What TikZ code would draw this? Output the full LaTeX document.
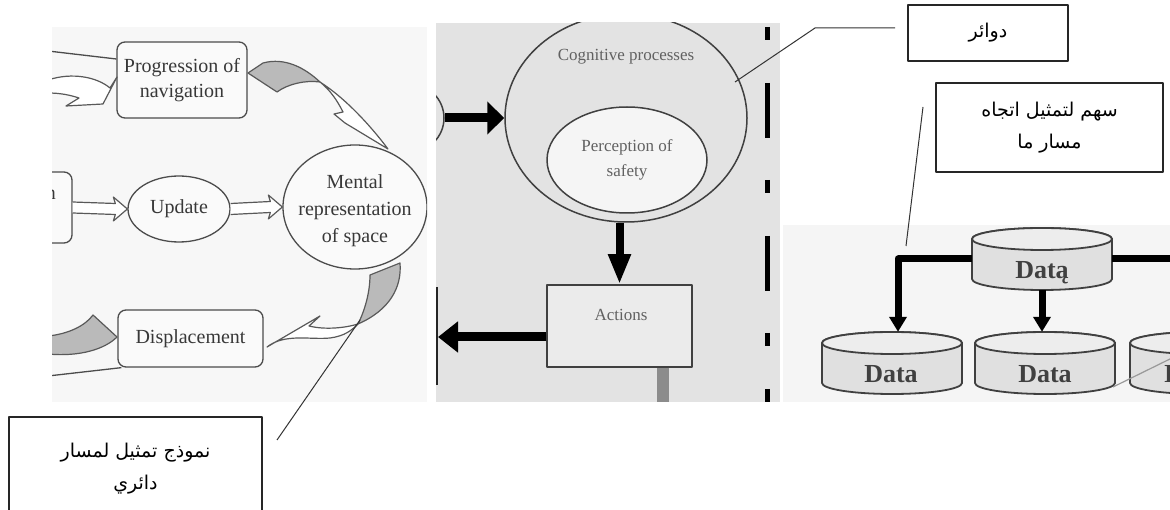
\documentclass[tikz,border=0pt]{standalone}
\usepackage{fontspec}
\setmainfont{Liberation Serif}
\newfontfamily\arabicfont[Script=Arabic]{DejaVu Sans}
\TeXXeTstate=1
\usetikzlibrary{shapes.geometric,arrows.meta,calc}

% a database drum: name, centre x, centre y, label, label x
\newcommand{\drum}[5]{%
  \node[inner sep=0pt, minimum width=140pt, minimum height=62pt] (#1) at (#2,#3) {};
  \path[drumline, fill=black!12] (#2-70,#3-20) -- (#2-70,#3+20)
     arc[start angle=180,end angle=0,x radius=70,y radius=11] -- (#2+70,#3-20)
     arc[start angle=0,end angle=-180,x radius=70,y radius=11] -- cycle;
  \draw[drumline, fill=black!7] (#2,#3-20) ellipse[x radius=70,y radius=11];
  \node[drumtext, anchor=base] at (#5,#3+20) {#4};
}
% double-line hollow arrow between two anchors
\newcommand{\dblarrow}[2]{%
  \draw[hollow] ($(#1)+(0,-5.5)$) -- ($(#2)+(-12,-5.5)$) -- ($(#2)+(-14,-12)$)
     -- (#2) -- ($(#2)+(-14,12)$) -- ($(#2)+(-12,5.5)$) -- ($(#1)+(0,5.5)$);
}

\begin{document}
\begin{tikzpicture}[x=1pt,y=-1pt, line join=round,
  panelline/.style={draw=black!70, line width=1.3pt},
  roundbox/.style={panelline, rounded corners=8pt, fill=white!98!black, inner sep=0pt,
     font=\fontsize{20}{25}\selectfont, text=black!78, align=center},
  ovalshape/.style={panelline, ellipse, inner sep=0pt, fill=white!98!black},
  txtone/.style={font=\fontsize{20}{27}\selectfont, text=black!78, align=center, inner sep=0pt},
  hollow/.style={draw=black!65, line width=1.2pt, fill=white},
  ribbon/.style={draw=black!65, line width=1.2pt, fill=black!27},
  lineb/.style={draw=black!75, line width=1.5pt},
  txttwo/.style={font=\fontsize{17}{25}\selectfont, text=black!62, align=center, inner sep=0pt},
  drumline/.style={draw=black!75, line width=1.8pt},
  drumtext/.style={font=\fontsize{26}{30}\selectfont\bfseries, text=black!75, inner sep=0pt},
  dataarrow/.style={draw=black, line width=7pt, -{Triangle[length=15pt,width=17pt]}},
  callout/.style={draw=black!85, line width=1.2pt, fill=white, inner sep=0pt, align=center,
     font=\arabicfont\fontsize{19}{32}\selectfont},
  leader/.style={draw=black!80, line width=1pt}
]
\useasboundingbox (0,0) rectangle (1170,510);
\fill[white] (0,0) rectangle (1170,510);

% ---------- left panel: navigation loop ----------
\begin{scope}
  \clip (52,27) rectangle (427,402);
  \fill[black!3] (52,27) rectangle (427,402);
  \node[roundbox, minimum width=130pt, minimum height=76pt] (prog) at (182,80) {Progression of\\navigation};
  \node[roundbox, minimum width=80pt, minimum height=71pt, text width=48pt, align=right] (nbox) at (32,207.5) {n\\\mbox{}};
  \node[ovalshape, minimum width=102pt, minimum height=66pt] (update) at (179,209) {};
  \node[txtone] (updatetxt) at (update) {Update};
  \node[ovalshape, minimum width=144pt, minimum height=124pt] (mental) at (355,207) {};
  \node[txtone] (mentaltxt) at (355,211) {Mental\\representation\\of space};
  \node[roundbox, minimum width=145pt, minimum height=57pt] (displ) at (190.5,338.5) {Displacement};

  \coordinate (p1l) at (48,51);
  \coordinate (p1b) at (48,376);
  \draw[panelline] (p1l) -- ([yshift=21pt]prog.west);
  \draw[panelline] ([xshift=4pt]displ.south west) -- (p1b);

  % curved hollow arrow entering the progression box
  \draw[hollow] (48,80) .. controls (72,72) and (97,77) .. (110,88) -- (117,77) -- (103,104)
     -- (66,106) -- (79,98) .. controls (70,95) and (60,93) .. (48,93);

  % double-line arrows
  \dblarrow{nbox.east}{update.west}
  \dblarrow{update.east}{mental.west}

  % twisted ribbon arrow: progression -> mental representation
  \draw[ribbon] (248,73) -- (263,63) .. controls (285,57) and (305,68) .. (320,82)
     .. controls (305,80) and (288,84) .. (277,92) -- cycle;
  \draw[hollow] (320,82) .. controls (345,98) and (370,125) .. (388,149) -- (345,123) -- (334,114)
     -- (343,112) .. controls (337,100) and (330,90) .. (320,82);

  % twisted ribbon arrow: mental representation -> displacement
  \draw[ribbon] (370,275) -- (400,263) .. controls (402,287) and (390,310) .. (358,324)
     .. controls (365,310) and (370,292) .. (370,275) -- cycle;
  \draw[hollow] (358,324) .. controls (345,328) and (325,330) .. (309,326) -- (320,316)
     -- (267,347) .. controls (285,333) and (310,340) .. (330,338)
     .. controls (345,336) and (352,330) .. (358,324);

  % ribbon tail leaving the displacement box
  \draw[ribbon] (48,336) .. controls (68,334) and (85,326) .. (93,315) -- (117,337)
     .. controls (105,349) and (80,357) .. (48,354);
\end{scope}

% ---------- middle panel: cognitive processes ----------
\begin{scope}
  \clip (436,23) rectangle (780,402);
  \fill[black!11] (436,23) rectangle (780,402);
  \node[circle, lineb, fill=black!11, minimum size=68pt, inner sep=0pt] (lcirc) at (410,118) {};
  \node[ellipse, lineb, fill=black!11, inner sep=0pt, minimum width=242pt, minimum height=208pt] (cog) at (626,118) {};
  \node[txttwo] (cogtxt) at (626,57) {Cognitive processes};
  \node[ellipse, lineb, fill=black!4, inner sep=0pt, minimum width=160pt, minimum height=106pt] (perc) at (627,160) {};
  \node[txttwo] (perctxt) at (627,160) {Perception of\\safety};
  \node[lineb, fill=black!8, inner sep=0pt, minimum width=145pt, minimum height=82pt] (actions) at (619.5,326) {};
  \node[txttwo] (acttxt) at (621,315) {Actions};

  \coordinate (lend) at (438,337);
  \coordinate (gbend) at (663,406);
  \draw[line width=9pt, -{Triangle[length=17pt,width=32pt]}] (lcirc.east) -- (cog.west);
  \draw[line width=8pt, -{Triangle[length=30pt,width=21pt]}] (cog.south -| actions.north) -- (actions.north);
  \draw[line width=9pt, -{Triangle[length=20pt,width=30pt]}] ([yshift=-11pt]actions.west) -- (lend);
  \draw[black!45, line width=12pt] (gbend |- actions.south) -- (gbend);
  \draw[black!85, line width=2.5pt] (437,287) -- (437,385);
  \draw[line width=5pt, dash pattern=on 13pt off 43pt on 55pt off 42pt] (767,27) -- (767,406);
\end{scope}

% ---------- right panel: data hierarchy ----------
\begin{scope}
  \clip (783,225) rectangle (1170,402);
  \fill[black!4] (783,225) rectangle (1170,402);
  \drum{d0}{1042}{259}{Datą}{1042}
  \drum{d1}{892}{363}{Data}{891}
  \drum{d2}{1045}{363}{Data}{1045}
  \drum{d3}{1200}{363}{Data}{1191}
  \coordinate (dright) at (1174,259);
  \coordinate (gl1) at (1113,387);
  \coordinate (gl2) at (1174,357);
  \draw[dataarrow] (d0.west) -| ([xshift=6pt]d1.north);
  \draw[dataarrow] (d0.south) -- (d0.south |- d2.north);
  \draw[draw=black, line width=7pt] (d0.east) -- (dright);
  \draw[black!40, line width=1.2pt] (gl1) -- (gl2);
\end{scope}

% ---------- callouts ----------
\node[callout, minimum width=160pt, minimum height=56pt] (k1) at (988,33) {\beginR دوائر\endR};
\node[callout, minimum width=227pt, minimum height=89pt] (k2) at (1049.5,127.5)
   {\beginR سهم لتمثيل اتجاه\endR\\\beginR مسار ما\endR};
\node[callout, minimum width=253pt, minimum height=104pt] (k3) at (135.5,469)
   {\beginR نموذج تمثيل لمسار\endR\\\beginR دائري\endR};

\coordinate (k1a) at (735,82);
\coordinate (k1b) at (815,28);
\coordinate (k1c) at (895,28);
\coordinate (k2a) at (923,107);
\coordinate (k2b) at (906,246);
\coordinate (k3a) at (277,440);
\coordinate (k3b) at (360,320);
\draw[leader] (k1a) -- (k1b) -- (k1c);
\draw[leader] (k2a) -- (k2b);
\draw[leader] (k3a) -- (k3b);
\end{tikzpicture}
\end{document}
